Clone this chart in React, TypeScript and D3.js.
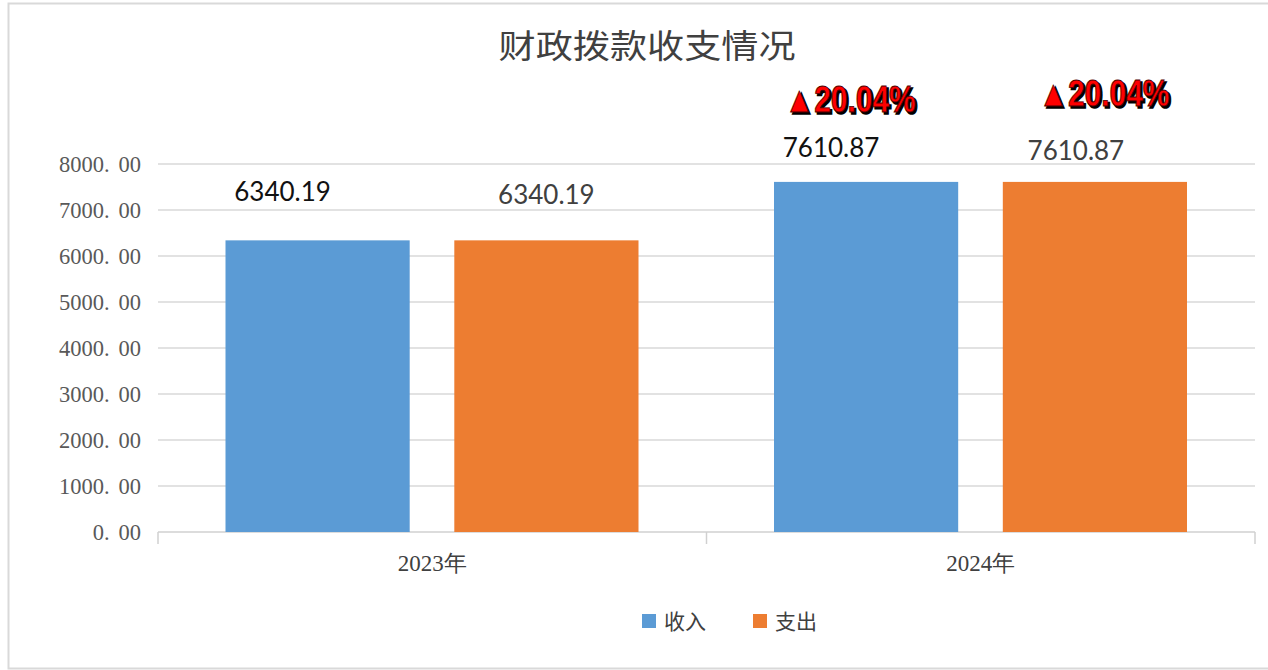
import React from "react";
import * as d3 from "d3";

const categories = ["2023年", "2024年"];
const seriesNames = ["收入", "支出"];
const incomeValues = [6340.19, 7610.87];
const expenseValues = [6340.19, 7610.87];
const growthLabels = ["", "▲20.04%"];
const yTicks = [0, 1000, 2000, 3000, 4000, 5000, 6000, 7000, 8000];
const title = "财政拨款收支情况";

const colors = ["#5b9bd5", "#ed7d31"];

// label placement tweaks (layout, not data)
const labelDx = [
  [-35, 0],
  [-35, -19],
];
const labelDy = [
  [-39, -36],
  [-25, -22],
];
const growthDx = [-16, 9];
const growthDy = [-70, -76];

export default function App() {
  const W = 1268;
  const H = 670;
  const left = 158;
  const right = 1255;
  const top = 164;
  const bottom = 532;

  const y = d3.scaleLinear().domain([0, 8000]).range([bottom, top]);
  const x0 = d3.scaleBand<string>().domain(categories).range([left, right]).paddingInner(0).paddingOuter(0);
  const x1 = d3
    .scaleBand<string>()
    .domain(seriesNames)
    .range([67.5, 480.5])
    .paddingInner(0.195);

  const series = [incomeValues, expenseValues];
  const fmt = d3.format(".2f");
  const tickFont = "'Liberation Serif', 'DejaVu Serif', serif";
  const cjk = "'Noto Sans CJK SC', sans-serif";

  return (
    <svg
      width={W}
      height={H}
      style={{ position: "absolute", left: 0, top: 0, background: "#fff" }}
    >
      <rect x={8.5} y={3.5} width={1275} height={665} fill="#fff" stroke="#d9d9d9" strokeWidth={2} />
      <text
        x={647}
        y={58}
        textAnchor="middle"
        fontFamily={cjk}
        fontSize={33}
        fill="#404040"
        textLength={297}
        lengthAdjust="spacingAndGlyphs"
      >
        {title}
      </text>

      {yTicks.map((t) => {
        const [ip, dp] = fmt(t).split(".");
        return (
          <g key={t}>
            {t > 0 && (
              <line x1={left} x2={right} y1={y(t)} y2={y(t)} stroke="#d9d9d9" strokeWidth={1.5} />
            )}
            <text
              x={141}
              y={y(t) + 7.5}
              textAnchor="end"
              fontFamily={tickFont}
              fontSize={22.5}
              fill="#595959"
            >
              {ip + "."}
              <tspan dx={9}>{dp}</tspan>
            </text>
          </g>
        );
      })}

      <line x1={left} x2={right} y1={bottom} y2={bottom} stroke="#d0d0d0" strokeWidth={1.5} />
      {[left, left + x0.bandwidth(), right].map((tx, i) => (
        <line key={i} x1={tx} x2={tx} y1={bottom} y2={bottom + 12} stroke="#d0d0d0" strokeWidth={1.5} />
      ))}

      {categories.map((c, ci) => (
        <g key={c}>
          {series.map((vals, si) => {
            const bx = (x0(c) as number) + (x1(seriesNames[si]) as number);
            return (
              <rect
                key={si}
                x={bx}
                y={y(vals[ci])}
                width={x1.bandwidth()}
                height={bottom - y(vals[ci])}
                fill={colors[si]}
              />
            );
          })}
          {series.map((vals, si) => {
            const bx = (x0(c) as number) + (x1(seriesNames[si]) as number) + x1.bandwidth() / 2;
            return (
              <text
                key={"l" + si}
                x={bx + labelDx[ci][si]}
                y={y(vals[ci]) + labelDy[ci][si]}
                textAnchor="middle"
                fontFamily="Lato, 'Open Sans', sans-serif"
                fontSize={26}
                fill={si === 0 ? "#111" : "#404040"}
              >
                {fmt(vals[ci])}
              </text>
            );
          })}
          {growthLabels[ci] &&
            series.map((vals, si) => {
              const bx = (x0(c) as number) + (x1(seriesNames[si]) as number) + x1.bandwidth() / 2;
              const gx = bx + growthDx[si];
              const gy = y(vals[ci]) + growthDy[si];
              return (
                <g key={"g" + si}>
                  <text
                    x={gx + 2}
                    y={gy + 2}
                    textAnchor="middle"
                    fontFamily="'Liberation Sans Narrow', 'Liberation Sans', Arial, sans-serif"
                    fontWeight="bold"
                    fontSize={36}
                    fill="#000"
                    stroke="#000"
                    strokeWidth={1.5}
                    textLength={131}
                    lengthAdjust="spacingAndGlyphs"
                  >
                    {growthLabels[ci]}
                  </text>
                  <text
                    x={gx}
                    y={gy}
                    textAnchor="middle"
                    fontFamily="'Liberation Sans Narrow', 'Liberation Sans', Arial, sans-serif"
                    fontWeight="bold"
                    fontSize={36}
                    fill="#ff0000"
                    stroke="#500000"
                    strokeWidth={0.8}
                    textLength={131}
                    lengthAdjust="spacingAndGlyphs"
                  >
                    {growthLabels[ci]}
                  </text>
                </g>
              );
            })}
          <text
            x={(x0(c) as number) + x0.bandwidth() / 2}
            y={571}
            textAnchor="middle"
            fontFamily={tickFont}
            fontSize={23}
            fill="#404040"
          >
            {c}
          </text>
        </g>
      ))}

      {seriesNames.map((n, i) => (
        <g key={n} transform={`translate(${642 + i * 111},0)`}>
          <rect x={0} y={614} width={14} height={14} fill={colors[i]} />
          <text x={22} y={629} fontFamily={cjk} fontSize={21} fill="#404040">
            {n}
          </text>
        </g>
      ))}
    </svg>
  );
}
